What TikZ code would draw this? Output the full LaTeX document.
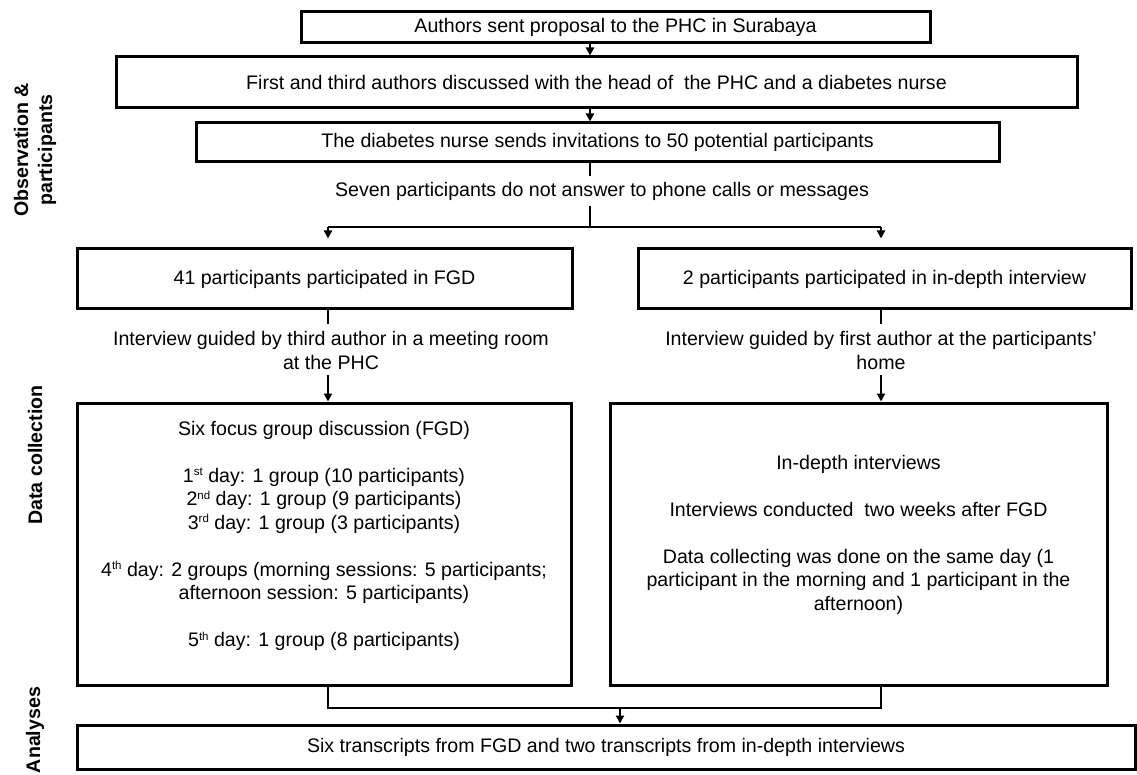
\documentclass[tikz,border=0pt]{standalone}
\usepackage{fontspec}
\setmainfont{Liberation Sans}
\usetikzlibrary{arrows.meta,calc}
\newcommand\mysup[1]{\smash{\raisebox{6.5pt}{\fontsize{11.5}{12}\selectfont #1}}}
\begin{document}
\begin{tikzpicture}[x=1pt,y=-1pt,
  txt/.style={font=\fontsize{19.6}{23.5}\selectfont},
  boxnode/.style={txt, draw, line width=3pt, inner sep=0pt, align=center},
  lab/.style={font=\bfseries\fontsize{19.6}{24}\selectfont, rotate=90, align=center},
  conn/.style={line width=2pt},
  arr/.style={conn, -{Triangle[length=8pt,width=8pt]}}]
\useasboundingbox (0,0) rectangle (1137,775);
\fill[white] (0,0) rectangle (1137,775);

% side labels
\node[lab] (obs) at (35,150) {Observation \&\\participants};
\node[lab] (dcol) at (35,455) {Data collection};
\node[lab] (ana) at (35,730) {Analyses};

% boxes
\node[boxnode, minimum width=629pt, minimum height=31pt] (b1) at (615.5,27.5) {Authors sent proposal to the PHC in Surabaya};
\node[boxnode, minimum width=961pt, minimum height=51pt] (b2) at (596.5,82.5) {First and third authors discussed with the head of\ \ the PHC and a diabetes nurse};
\node[boxnode, minimum width=803pt, minimum height=39pt] (b3) at (597.5,142.5) {The diabetes nurse sends invitations to 50 potential participants};
\node[txt, inner sep=0pt, minimum height=30pt] (seven) at (602,191) {Seven participants do not answer to phone calls or messages};

\node[boxnode, minimum width=495pt, minimum height=60pt] (fgd) at (324.5,279) {41 participants participated in FGD};
\node[boxnode, minimum width=493pt, minimum height=60pt] (ind) at (884.5,279) {2 participants participated in in-depth interview};

\node[txt, align=center, inner sep=0pt] (gL) at (331,353) {\strut Interview guided by third author in a meeting room\\\strut at the PHC};
\node[txt, align=center, inner sep=0pt] (gR) at (881,353) {\strut Interview guided by first author at the participants'\\\strut home};

\node[draw, line width=3pt, minimum width=494pt, minimum height=282pt, inner sep=0pt] (dL) at (324,544) {};
\node[draw, line width=3pt, minimum width=497pt, minimum height=282pt, inner sep=0pt] (dR) at (858.5,544) {};

\node[txt, align=center, inner sep=0pt] (dLt) at (324,536.3) {\strut Six focus group discussion (FGD)\\
\strut\\
\strut 1\mysup{st} day: 1 group (10 participants)\\
\strut 2\mysup{nd} day: 1 group (9 participants)\\
\strut 3\mysup{rd} day: 1 group (3 participants)\\
\strut\\
\strut 4\mysup{th} day: 2 groups (morning sessions: 5 participants;\\
\strut afternoon session: 5 participants)\\
\strut\\
\strut 5\mysup{th} day: 1 group (8 participants)};

\node[txt, align=center, inner sep=0pt] (dRt) at (858.5,535) {\strut In-depth interviews\\
\strut\\
\strut Interviews conducted\ \ two weeks after FGD\\
\strut\\
\strut Data collecting was done on the same day (1\\
\strut participant in the morning and 1 participant in the\\
\strut afternoon)};

\node[boxnode, minimum width=1058pt, minimum height=44pt] (fin) at (606,747) {Six transcripts from FGD and two transcripts from in-depth interviews};

% junction coordinates
\coordinate (spine) at (590,0);
\coordinate (jL) at (328,227);
\coordinate (jR) at (881,227);
\coordinate (mL) at (328,708);
\coordinate (mR) at (881,708);
\coordinate (mC) at (620,708);

% connectors
\draw[arr] (b1.south -| spine) -- (b2.north -| spine);
\draw[arr] (b2.south -| spine) -- (b3.north -| spine);
\draw[conn] (b3.south -| spine) -- (seven.north -| spine);
\draw[conn] (seven.south -| spine) -- (jL -| spine);
\draw[conn] (jL) -- (jR);
\draw[arr] (jL) -- ($(fgd.north -| jL)+(0,-9)$);
\draw[arr] (jR) -- ($(ind.north -| jR)+(0,-9)$);

\draw[conn] (fgd.south -| jL) -- ($(fgd.south -| jL)+(0,14)$);
\draw[conn] (ind.south -| jR) -- ($(ind.south -| jR)+(0,14)$);
\draw[arr] ($(dL.north -| jL)+(0,-27)$) -- (dL.north -| jL);
\draw[arr] ($(dR.north -| jR)+(0,-27)$) -- (dR.north -| jR);

\draw[conn] (dL.south -| mL) -- (mL) -- (mR) -- (dR.south -| mR);
\draw[arr] (mC) -- (fin.north -| mC);
\end{tikzpicture}
\end{document}
